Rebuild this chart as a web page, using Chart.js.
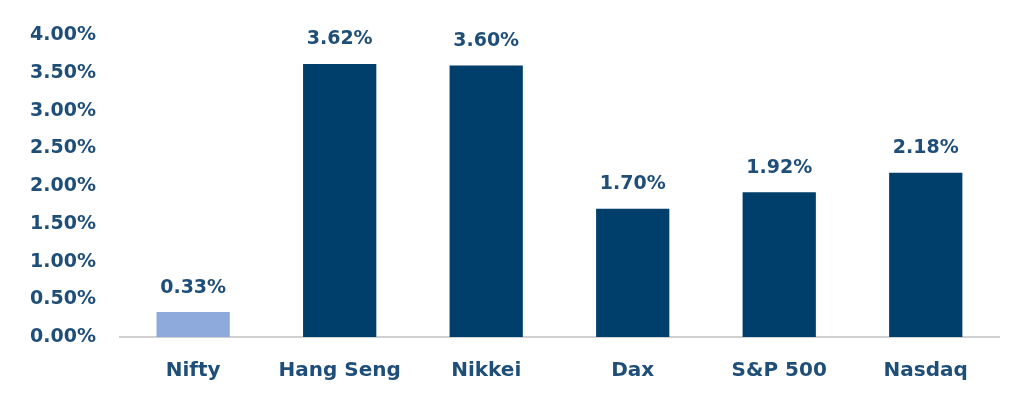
<!DOCTYPE html>
<html>
<head>
<meta charset="utf-8">
<script src="https://cdn.jsdelivr.net/npm/chart.js@4"></script>
<style>
    html, body { margin: 0; padding: 0; background: #ffffff; }
    #wrap { width: 1024px; height: 402px; }
</style>
</head>
<body>
<div id="wrap"><canvas id="myChart"></canvas></div>
<script>
// Données
const indices = ["Nifty", "Hang Seng", "Nikkei", "Dax", "S&P 500", "Nasdaq"];
const rendements = [0.33, 3.62, 3.60, 1.70, 1.92, 2.18];
const couleurs = ["#8EA9DB", "#003F6B", "#003F6B", "#003F6B", "#003F6B", "#003F6B"];

const texteCouleur = "#1F4E79";
const police = "'DejaVu Sans', sans-serif";

// Étiquettes au-dessus des barres
const etiquettesPlugin = {
    id: 'etiquettes',
    afterDatasetsDraw(chart) {
        const ctx = chart.ctx;
        const meta = chart.getDatasetMeta(0);
        ctx.save();
        ctx.font = "bold 19px " + police;
        ctx.fillStyle = texteCouleur;
        ctx.textAlign = 'center';
        ctx.textBaseline = 'bottom';
        meta.data.forEach((bar, i) => {
            ctx.fillText(rendements[i].toFixed(2) + "%", bar.x, bar.y - 15);
        });
        ctx.restore();
    }
};

const ctx = document.getElementById("myChart").getContext("2d");
const chart = new Chart(ctx, {
    type: 'bar',
    data: {
        labels: indices,
        datasets: [{
            data: rendements,
            backgroundColor: couleurs,
            borderWidth: 0,
            barPercentage: 0.5,
            categoryPercentage: 1.0
        }]
    },
    options: {
        responsive: true,
        maintainAspectRatio: false,
        animation: false,
        layout: { padding: { top: 17, right: 25, left: 6, bottom: -3 } },
        plugins: { legend: { display: false }, tooltip: { enabled: false } },
        scales: {
            x: {
                grid: { display: false, drawTicks: false },
                border: { display: true, color: "#D0D0D0", width: 2 },
                ticks: {
                    color: texteCouleur,
                    padding: 22,
                    font: { family: police, size: 20, weight: 'bold' }
                }
            },
            y: {
                min: 0,
                max: 4,
                grid: { display: false, drawTicks: false },
                border: { display: false },
                ticks: {
                    stepSize: 0.5,
                    color: texteCouleur,
                    padding: 24,
                    font: { family: police, size: 19, weight: 'bold' },
                    callback: (v) => Number(v).toFixed(2) + "%"
                }
            }
        }
    },
    plugins: [etiquettesPlugin]
});
</script>
</body>
</html>
